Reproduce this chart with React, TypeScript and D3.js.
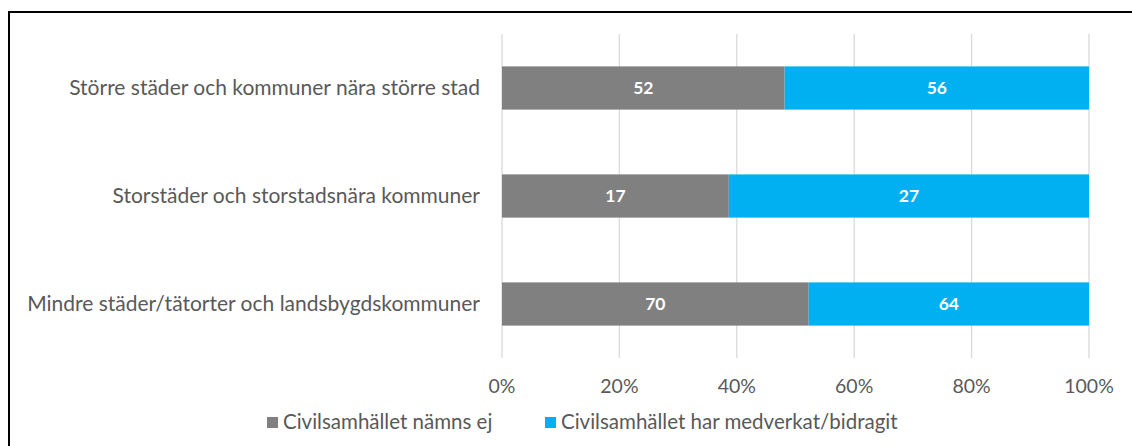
import { useRef, useEffect } from "react";
import * as d3 from "d3";

const categories = [
  "Större städer och kommuner nära större stad",
  "Storstäder och storstadsnära kommuner",
  "Mindre städer/tätorter och landsbygdskommuner",
];
const nämnsEj = [52, 17, 70];
const medverkat = [56, 27, 64];
const seriesNames = ["Civilsamhället nämns ej", "Civilsamhället har medverkat/bidragit"];
const tickValues = [0, 0.2, 0.4, 0.6, 0.8, 1];

export default function App() {
  const chartRef = useRef<HTMLDivElement>(null);

  useEffect(() => {
    if (!chartRef.current) return;
    d3.select(chartRef.current).selectAll("*").remove();

    const width = 1132;
    const height = 446;
    const margin = { top: 34, right: 43, bottom: 88, left: 502 };
    const font = "Lato, 'Open Sans', sans-serif";
    const colors = ["#808080", "#00b0f0"];

    const rows = categories.map((c, i) => ({ cat: c, a: nämnsEj[i], b: medverkat[i] }));
    const stack = d3.stack<any>().keys(["a", "b"]).offset(d3.stackOffsetExpand);
    const layers = stack(rows);

    const svg = d3
      .select(chartRef.current)
      .append("svg")
      .attr("width", width)
      .attr("height", height)
      .style("position", "absolute")
      .style("left", "0px")
      .style("top", "0px")
      .style("font-family", font);

    svg.append("rect").attr("width", width).attr("height", height).attr("fill", "#fff");

    // frame (only top and left visible)
    svg
      .append("rect")
      .attr("x", 9)
      .attr("y", 12)
      .attr("width", 1300)
      .attr("height", 600)
      .attr("fill", "none")
      .attr("stroke", "#000")
      .attr("stroke-width", 2);

    const x = d3.scaleLinear().domain([0, 1]).range([margin.left, width - margin.right]);
    const y = d3
      .scaleBand()
      .domain(categories)
      .range([margin.top, height - margin.bottom])
      .paddingInner(0.6)
      .paddingOuter(0.3);

    // gridlines
    svg
      .append("g")
      .selectAll("line")
      .data(tickValues)
      .enter()
      .append("line")
      .attr("x1", (d) => x(d))
      .attr("x2", (d) => x(d))
      .attr("y1", margin.top)
      .attr("y2", height - margin.bottom)
      .attr("stroke", "#d9d9d9")
      .attr("stroke-width", 1.3);

    // tick labels
    svg
      .append("g")
      .selectAll("text")
      .data(tickValues)
      .enter()
      .append("text")
      .attr("x", (d) => x(d))
      .attr("y", 386)
      .attr("dy", "0.35em")
      .attr("text-anchor", "middle")
      .attr("font-size", "19.5px")
      .attr("fill", "#595959")
      .text((d) => d3.format(".0%")(d));

    // bars
    layers.forEach((layer, li) => {
      const g = svg.append("g");
      g.selectAll("rect")
        .data(layer)
        .enter()
        .append("rect")
        .attr("x", (d) => x(d[0]))
        .attr("y", (d) => y(d.data.cat)!)
        .attr("width", (d) => x(d[1]) - x(d[0]))
        .attr("height", y.bandwidth())
        .attr("fill", colors[li]);

      g.selectAll("text")
        .data(layer)
        .enter()
        .append("text")
        .attr("x", (d) => (x(d[0]) + x(d[1])) / 2)
        .attr("y", (d) => y(d.data.cat)! + y.bandwidth() / 2)
        .attr("dy", "0.35em")
        .attr("text-anchor", "middle")
        .attr("font-size", "17.5px")
        .attr("font-weight", "bold")
        .attr("fill", "#fff")
        .text((d) => (li === 0 ? d.data.a : d.data.b));
    });

    // category labels
    svg
      .append("g")
      .selectAll("text")
      .data(categories)
      .enter()
      .append("text")
      .attr("x", 480)
      .attr("y", (d) => y(d)! + y.bandwidth() / 2)
      .attr("dy", "0.35em")
      .attr("text-anchor", "end")
      .attr("font-size", "21px")
      .attr("fill", "#595959")
      .text((d) => d);

    // legend
    const legendX = [267, 545];
    seriesNames.forEach((name, i) => {
      svg
        .append("rect")
        .attr("x", legendX[i])
        .attr("y", 417)
        .attr("width", 11)
        .attr("height", 11)
        .attr("fill", colors[i]);
      svg
        .append("text")
        .attr("x", legendX[i] + 16)
        .attr("y", 422)
        .attr("dy", "0.35em")
        .attr("font-size", "20.5px")
        .attr("fill", "#595959")
        .text(name);
    });
  }, []);

  return (
    <div>
      <div ref={chartRef}></div>
    </div>
  );
}
